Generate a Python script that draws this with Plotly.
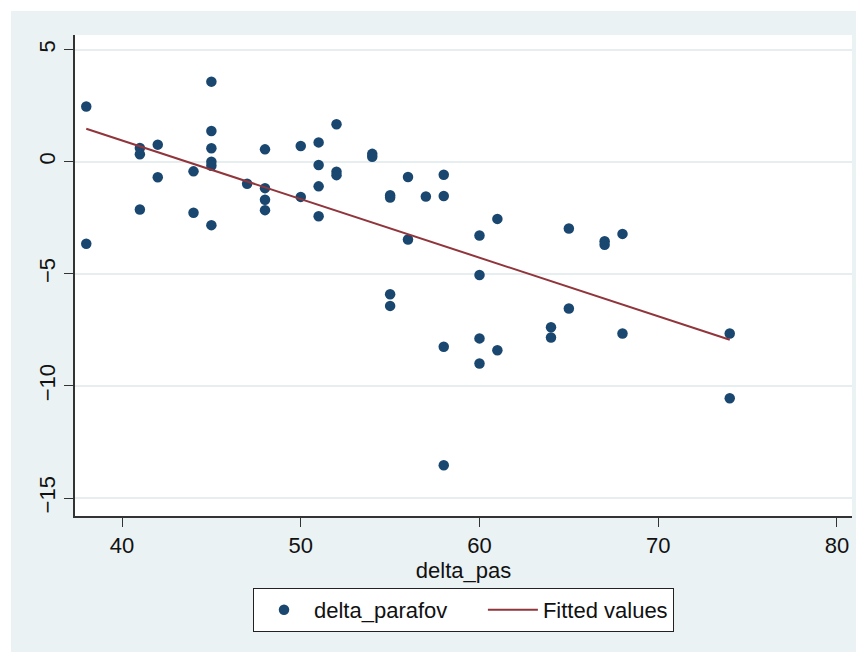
import plotly.graph_objects as go

# delta_pas (x) and delta_parafov (y)
delta_pas = [38, 38,
             41, 41, 41,
             42, 42,
             44, 44,
             45, 45, 45, 45, 45, 45,
             47,
             48, 48, 48, 48,
             50, 50,
             51, 51, 51, 51,
             52, 52, 52,
             54, 54,
             55, 55, 55, 55,
             56, 56,
             57,
             58, 58, 58, 58,
             60, 60, 60, 60,
             61, 61,
             64, 64,
             65, 65,
             67, 67,
             68, 68,
             74, 74]
delta_parafov = [2.46, -3.66,
                 0.61, 0.33, -2.13,
                 0.76, -0.69,
                 -0.43, -2.28,
                 3.57, 1.37, 0.60, 0.00, -0.18, -2.83,
                 -0.98,
                 0.55, -1.18, -1.70, -2.16,
                 0.70, -1.57,
                 0.86, -0.15, -1.10, -2.43,
                 1.67, -0.45, -0.60,
                 0.35, 0.22,
                 -1.50, -1.60, -5.91, -6.43,
                 -0.68, -3.47,
                 -1.55,
                 -0.58, -1.53, -8.25, -13.54,
                 -3.29, -5.05, -7.88, -9.00,
                 -2.55, -8.41,
                 -7.38, -7.84,
                 -2.98, -6.55,
                 -3.55, -3.70,
                 -3.22, -7.66,
                 -7.66, -10.55]

# Fitted values line (endpoints)
fit_x = [38, 74]
fit_y = [1.47, -7.94]

x_ticks = [40, 50, 60, 70, 80]
y_ticks = [5, 0, -5, -10, -15]

# page has an 8px body margin, so the figure is drawn 8px in
W, H = 856, 644
L, R, T, B = 67, 12, 27, 136
pw, ph = W - L - R, H - T - B

def fx(px):
    return (px - L) / pw

def fy(py):
    return (H - B - py) / ph

fig = go.Figure()
fig.add_trace(go.Scatter(
    x=delta_pas, y=delta_parafov, mode="markers",
    name="delta_parafov" + "\u00a0" * 5,
    marker=dict(color="#1a476f", size=10.5, line=dict(width=0)),
))
fig.add_trace(go.Scatter(
    x=fit_x, y=fit_y, mode="lines", name="Fitted values",
    line=dict(color="#90353b", width=2),
))

shapes = [
    dict(type="rect", xref="paper", yref="paper", layer="below",
         x0=fx(3), x1=fx(W + 5), y0=fy(H + 5), y1=fy(3),
         fillcolor="#eaf2f3", line=dict(width=0)),
    dict(type="rect", xref="paper", yref="paper", layer="below",
         x0=0, x1=1, y0=0, y1=1,
         fillcolor="white", line=dict(width=0)),
]

fig.update_layout(
    width=W, height=H,
    margin=dict(l=L, r=R, t=T, b=B),
    paper_bgcolor="white",
    plot_bgcolor="white",
    shapes=shapes,
    font=dict(family="Liberation Sans, Arial, sans-serif", size=22, color="#111"),
    showlegend=True,
    legend=dict(
        orientation="h", x=0.5, xanchor="center", y=fy(580), yanchor="top",
        bgcolor="white", bordercolor="#222", borderwidth=1,
        font=dict(size=22), itemwidth=50,
    ),
    xaxis=dict(
        range=[37.37, 80.84], tickvals=x_ticks,
        showgrid=False, zeroline=False,
        showline=True, linecolor="#333", linewidth=1.5,
        ticks="outside", ticklen=9, tickcolor="#333",
        title=dict(text="delta_pas", standoff=0, font=dict(size=22)),
        tickfont=dict(size=22),
    ),
    yaxis=dict(
        range=[-15.8, 5.65], tickvals=y_ticks,
        showgrid=True, gridcolor="#e6eef0", gridwidth=1.5,
        zeroline=False,
        showline=True, linecolor="#333", linewidth=1.5,
        ticks="outside", ticklen=9, tickcolor="#333",
        tickangle=-90, tickfont=dict(size=22),
    ),
)

fig.write_html("out.html")
